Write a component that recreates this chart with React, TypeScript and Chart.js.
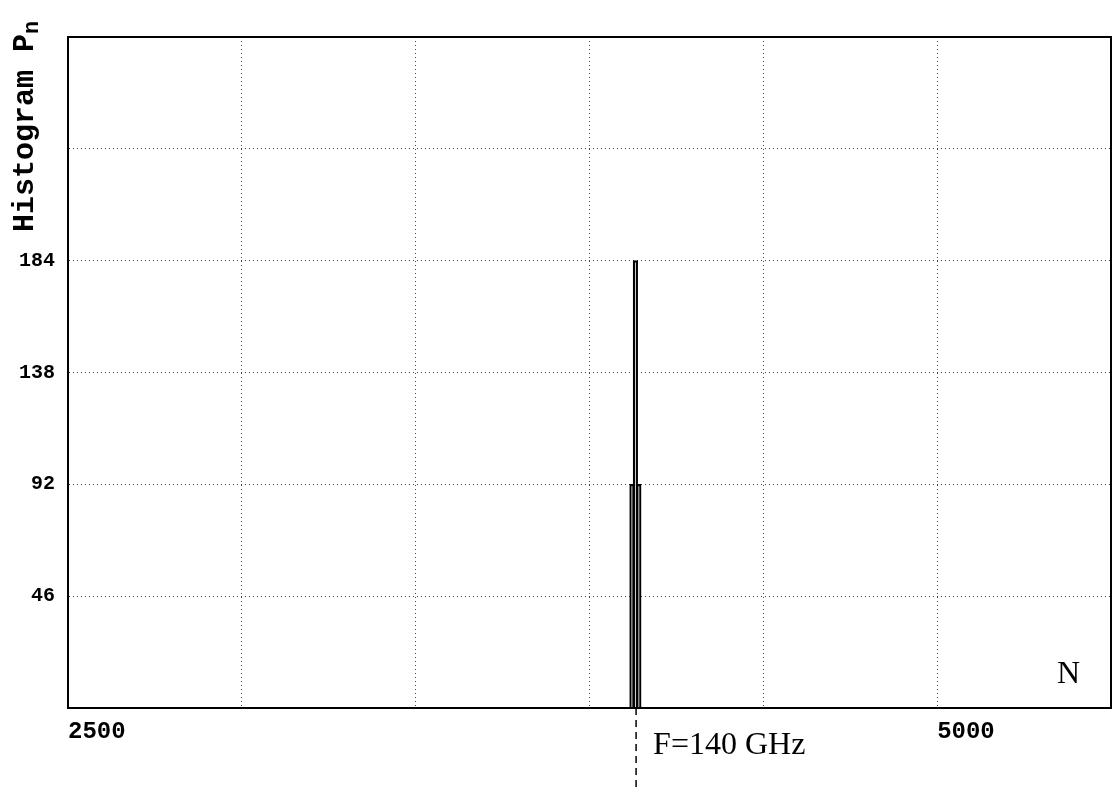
import React, { useEffect, useRef } from "react";
import { Chart, registerables } from "chart.js";

Chart.register(...registerables);

// ---- data ----
const binN = [4122, 4132, 4142];
const histogramP = [92, 184, 92];
const yTickValues = [46, 92, 138, 184];
const xTickLabels = [2500, 5000];
const xMin = 2500;
const xMax = 5500;
const xStep = 500;
const yMax = 276;
const yStep = 46;
const markerN = 4134;
const markerLabel = "F=140 GHz";
const xAxisLabel = "N";
const yTitleMain = "Histogram P";
const yTitleSub = "n";

const annotations = {
  id: "annotations",
  afterDraw(chart: any) {
    const { ctx, chartArea, scales } = chart;
    ctx.save();
    ctx.setLineDash([]);
    // frame
    ctx.strokeStyle = "#000";
    ctx.lineWidth = 2;
    ctx.strokeRect(chartArea.left, chartArea.top, chartArea.right - chartArea.left, chartArea.bottom - chartArea.top);
    // dashed marker below axis
    const mx = scales.x.getPixelForValue(markerN);
    ctx.beginPath();
    ctx.setLineDash([7, 5]);
    ctx.lineWidth = 1.5;
    ctx.moveTo(mx, chartArea.bottom);
    ctx.lineTo(mx, chart.height);
    ctx.stroke();
    ctx.setLineDash([]);
    // marker label
    ctx.fillStyle = "#000";
    ctx.font = "32px 'Liberation Serif', serif";
    ctx.textAlign = "left";
    ctx.textBaseline = "alphabetic";
    ctx.fillText(markerLabel, mx + 17, chartArea.bottom + 46);
    // N label inside plot
    ctx.textAlign = "right";
    ctx.fillText(xAxisLabel, chartArea.right - 31, chartArea.bottom - 25);
    // y title rotated with subscript
    ctx.rotate(-Math.PI / 2);
    ctx.textAlign = "left";
    ctx.font = "bold 30px 'Liberation Mono', monospace";
    const startX = -232;
    const base = 33;
    ctx.fillText(yTitleMain, startX, base);
    const w = ctx.measureText(yTitleMain).width;
    ctx.font = "bold 22px 'Liberation Mono', monospace";
    ctx.fillText(yTitleSub, startX + w, base + 5);
    ctx.restore();
  },
};

export default function App() {
  const ref = useRef<HTMLCanvasElement | null>(null);
  useEffect(() => {
    if (!ref.current) return;
    const chart = new Chart(ref.current, {
      type: "bar",
      data: {
        datasets: [
          {
            data: binN.map((x, i) => ({ x, y: histogramP[i] })),
            backgroundColor: "rgba(255,255,255,0)",
            borderColor: "#000",
            borderWidth: 1.5,
            barThickness: 4.5,
          } as any,
        ],
      },
      options: {
        animation: false,
        responsive: true,
        maintainAspectRatio: false,
        layout: { padding: { top: 37, right: 0, left: 0, bottom: 0 } },
        plugins: { legend: { display: false }, tooltip: { enabled: false } },
        scales: {
          x: {
            type: "linear",
            min: xMin,
            max: xMax,
            offset: false,
            afterBuildTicks(scale: any) {
              const t = [];
              for (let v = xMin; v <= xMax; v += xStep) t.push({ value: v });
              scale.ticks = t;
            },
            afterFit(scale: any) {
              scale.height = 84;
              scale.paddingLeft = 0;
              scale.paddingRight = 4;
            },
            grid: { offset: false, color: "#444", lineWidth: 1, drawTicks: false } as any,
            border: { display: true, color: "#000", width: 2, dash: [1, 3] } as any,
            ticks: {
              autoSkip: false,
              maxRotation: 0,
              align: "start",
              padding: 10,
              color: "#000",
              font: { family: "'Liberation Mono', monospace", size: 24, weight: "bold" },
              callback: (v: any) => (xTickLabels.includes(Number(v)) ? String(v) : ""),
            },
          },
          y: {
            min: 0,
            max: yMax,
            afterBuildTicks(scale: any) {
              const t = [];
              for (let v = 0; v <= yMax; v += yStep) t.push({ value: v });
              scale.ticks = t;
            },
            afterFit(scale: any) {
              scale.width = 68;
            },
            grid: { color: "#444", lineWidth: 1, drawTicks: false },
            border: { display: true, color: "#000", width: 2, dash: [1, 3] } as any,
            ticks: {
              autoSkip: false,
              padding: 13,
              color: "#000",
              font: { family: "'Liberation Mono', monospace", size: 20, weight: "bold" },
              callback: (v: any) => (yTickValues.includes(Number(v)) ? String(v) : ""),
            },
          },
        },
      } as any,
      plugins: [annotations],
    });
    return () => chart.destroy();
  }, []);
  return (
    <div style={{ position: "fixed", left: 0, top: 0, width: 1115, height: 792, background: "#fff" }}>
      <canvas ref={ref} />
    </div>
  );
}
